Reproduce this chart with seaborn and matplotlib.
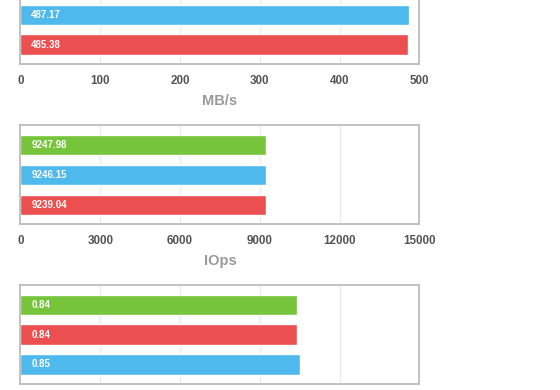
import matplotlib
matplotlib.use("Agg")
import matplotlib.pyplot as plt
import seaborn as sns

# data for the three panels (series order as drawn top to bottom)
mbs_names = ["green", "blue", "red"]
mbs_values = [488.40, 487.17, 485.38]

iops_names = ["green", "blue", "red"]
iops_values = [9247.98, 9246.15, 9239.04]

lat_names = ["green", "red", "blue"]
lat_values = [0.84, 0.84, 0.85]

colors = {"green": "#76C43A", "blue": "#4DB9EC", "red": "#EC4F4F"}

sns.set_theme(style="white")
plt.rcParams['font.family'] = ['Liberation Sans', 'DejaVu Sans']

fig = plt.figure(figsize=(5.6, 3.9), dpi=100)

panels = [
    (mbs_names, mbs_values, 500, [0, 100, 200, 300, 400, 500], "MB/s", 0.8359),
    (iops_names, iops_values, 15000, [0, 3000, 6000, 9000, 12000, 15000], "IOps", 0.4256),
    (lat_names, lat_values, 1.213, None, "", 0.0154),
]

for names, values, xmax, ticks, label, bottom in panels:
    ax = fig.add_axes([0.0366, bottom, 0.7125, 0.2538])
    sns.barplot(x=values, y=names, hue=names, palette=colors, orient="h",
                width=0.667, legend=False, saturation=1, ax=ax)
    ax.set_xlim(0, xmax)
    ax.set_ylim(2.65, -0.65)
    if ticks is None:
        ticks = [xmax * i / 5 for i in range(6)]
        ax.set_xticks(ticks)
        ax.set_xticklabels([])
    else:
        ax.set_xticks(ticks)
        ax.set_xticklabels([str(t) for t in ticks], fontsize=8.4,
                           color="#555555", fontweight="bold")
    ax.tick_params(axis="x", length=0, pad=8)
    ax.set_yticks([])
    ax.set_ylabel("")
    ax.grid(axis="x", color="#EBEBEB", linewidth=1)
    ax.set_axisbelow(True)
    for s in ax.spines.values():
        s.set_color("#BDBDBD")
        s.set_linewidth(1.3)
    ax.set_xlabel(label, fontsize=10.5, color="#9A9A9A", fontweight="bold",
                  labelpad=5)
    for i, v in enumerate(values):
        ax.text(xmax * 0.027, i, f"{v:.2f}", color="white", fontsize=7,
                fontweight="bold", va="center", ha="left")

fig.savefig("out.png", dpi=100)
